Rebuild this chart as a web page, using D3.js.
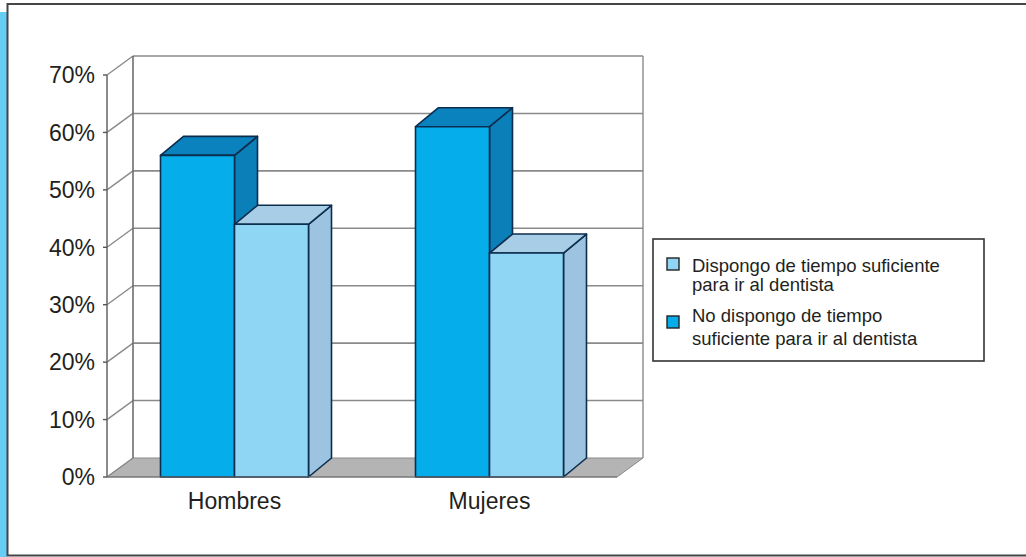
<!DOCTYPE html>
<html>
<head>
<meta charset="utf-8">
<script src="https://cdn.jsdelivr.net/npm/d3@7"></script>
<style>
  html, body { margin: 0; padding: 0; background: #fff; }
  svg { display: block; font-family: "Liberation Sans", Arial, sans-serif; }
</style>
</head>
<body>
<svg id="chart" width="1026" height="557"></svg>
<script>
// Data
const categories = ["Hombres", "Mujeres"];
const seriesNames = [
  "No dispongo de tiempo suficiente para ir al dentista",
  "Dispongo de tiempo suficiente para ir al dentista"
];
const noDispongo = [56, 61];
const dispongo = [44, 39];
const yTicks = [0, 10, 20, 30, 40, 50, 60, 70];
const legendLines = [
  ["Dispongo de tiempo suficiente", "para ir al dentista"],
  ["No dispongo de tiempo", "suficiente para ir al dentista"]
];

const svg = d3.select("#chart");

// Page frame and side band
svg.append("rect").attr("x", 0).attr("y", 12).attr("width", 7).attr("height", 545).attr("fill", "#66cdf5");
svg.append("rect").attr("x", 7.5).attr("y", 4).attr("width", 1030).attr("height", 551.5)
  .attr("fill", "none").attr("stroke", "#454545").attr("stroke-width", 2);

// Plot geometry (front plane + depth offset for the 3D walls)
const x0 = d3.scaleBand().domain(categories).range([107, 617]).padding(0);
const x1 = d3.scaleBand().domain([0, 1]).range([0, x0.bandwidth()]).paddingInner(0).paddingOuter(0.723);
const y = d3.scaleLinear().domain([0, 70]).range([477, 75]);
const wallDx = 26, wallDy = -19;
const barDx = 23, barDy = -19;
const gridColor = "#8a8a8a";

const walls = svg.append("g");
// Floor
const [fx0, fx1] = x0.range();
walls.append("path")
  .attr("d", `M${fx0},${y(0)}L${fx1},${y(0)}L${fx1 + wallDx},${y(0) + wallDy}L${fx0 + wallDx},${y(0) + wallDy}Z`)
  .attr("fill", "#b4b4b4").attr("stroke", "#8a8a8a").attr("stroke-width", 1);

// Back wall gridlines and left wall diagonals
yTicks.forEach(v => {
  const yy = y(v);
  if (v > 0) {
    walls.append("line").attr("x1", fx0 + wallDx).attr("x2", fx1 + wallDx)
      .attr("y1", yy + wallDy).attr("y2", yy + wallDy)
      .attr("stroke", gridColor).attr("stroke-width", 1.6);
  }
  walls.append("line").attr("x1", fx0).attr("x2", fx0 + wallDx)
    .attr("y1", yy).attr("y2", yy + wallDy)
    .attr("stroke", gridColor).attr("stroke-width", 1.4);
});
// Wall edges
walls.append("line").attr("x1", fx0 + wallDx).attr("x2", fx0 + wallDx)
  .attr("y1", y(70) + wallDy).attr("y2", y(0) + wallDy).attr("stroke", "#6e6e6e").attr("stroke-width", 1.6);
walls.append("line").attr("x1", fx1 + wallDx).attr("x2", fx1 + wallDx)
  .attr("y1", y(70) + wallDy).attr("y2", y(0) + wallDy).attr("stroke", "#8a8a8a").attr("stroke-width", 1.4);
walls.append("line").attr("x1", fx0).attr("x2", fx0)
  .attr("y1", y(70)).attr("y2", y(0)).attr("stroke", "#6e6e6e").attr("stroke-width", 1.6);

// Y axis ticks and labels
const yAxis = svg.append("g");
yTicks.forEach(v => {
  yAxis.append("line").attr("x1", fx0 - 4).attr("x2", fx0).attr("y1", y(v)).attr("y2", y(v))
    .attr("stroke", "#555").attr("stroke-width", 1.4);
  yAxis.append("text").attr("x", 95).attr("y", y(v)).attr("dy", "0.36em")
    .attr("text-anchor", "end").attr("font-size", 23).attr("fill", "#231f20")
    .text(v + "%");
});

// Category labels
categories.forEach(c => {
  svg.append("text").attr("x", x0(c) + x0.bandwidth() / 2).attr("y", 509)
    .attr("text-anchor", "middle").attr("font-size", 23).attr("fill", "#231f20").text(c);
});

// Bars
const palette = [
  { front: "#05aeea", top: "#0a82bd", side: "#0a7fb8" },
  { front: "#8fd5f4", top: "#a8cde6", side: "#9cc4e0" }
];
const outline = "#0c2d4e";
const rows = [];
categories.forEach((c, i) => {
  rows.push({ cat: c, s: 0, v: noDispongo[i] });
  rows.push({ cat: c, s: 1, v: dispongo[i] });
});

const bars = svg.append("g");
rows.forEach(d => {
  const xl = x0(d.cat) + x1(d.s);
  const xr = xl + x1.bandwidth();
  const yt = y(d.v), yb = y(0);
  const col = palette[d.s];
  const g = bars.append("g").attr("stroke", outline).attr("stroke-width", 1.6).attr("stroke-linejoin", "round");
  // side face
  g.append("path")
    .attr("d", `M${xr},${yt}L${xr + barDx},${yt + barDy}L${xr + barDx},${yb + barDy}L${xr},${yb}Z`)
    .attr("fill", col.side);
  // top face
  g.append("path")
    .attr("d", `M${xl},${yt}L${xl + barDx},${yt + barDy}L${xr + barDx},${yt + barDy}L${xr},${yt}Z`)
    .attr("fill", col.top);
  // front face
  g.append("rect").attr("x", xl).attr("y", yt).attr("width", xr - xl).attr("height", yb - yt)
    .attr("fill", col.front);
});

// Front floor edge
svg.append("line").attr("x1", fx0).attr("x2", fx1).attr("y1", y(0)).attr("y2", y(0))
  .attr("stroke", "#6e6e6e").attr("stroke-width", 1.2);

// Legend
const legend = svg.append("g");
legend.append("rect").attr("x", 653).attr("y", 239).attr("width", 331).attr("height", 122)
  .attr("fill", "#fff").attr("stroke", "#333").attr("stroke-width", 1.6);
const legendSeries = [1, 0];
const swatchY = [258, 316];
const baselines = [[272, 291], [322, 345]];
legendSeries.forEach((s, i) => {
  legend.append("rect").attr("x", 667).attr("y", swatchY[i]).attr("width", 12).attr("height", 12)
    .attr("fill", palette[s].front).attr("stroke", "#222").attr("stroke-width", 1.4);
  legendLines[i].forEach((line, j) => {
    legend.append("text").attr("x", 692).attr("y", baselines[i][j])
      .attr("font-size", 18.5).attr("fill", "#231f20").text(line);
  });
});
</script>
</body>
</html>
